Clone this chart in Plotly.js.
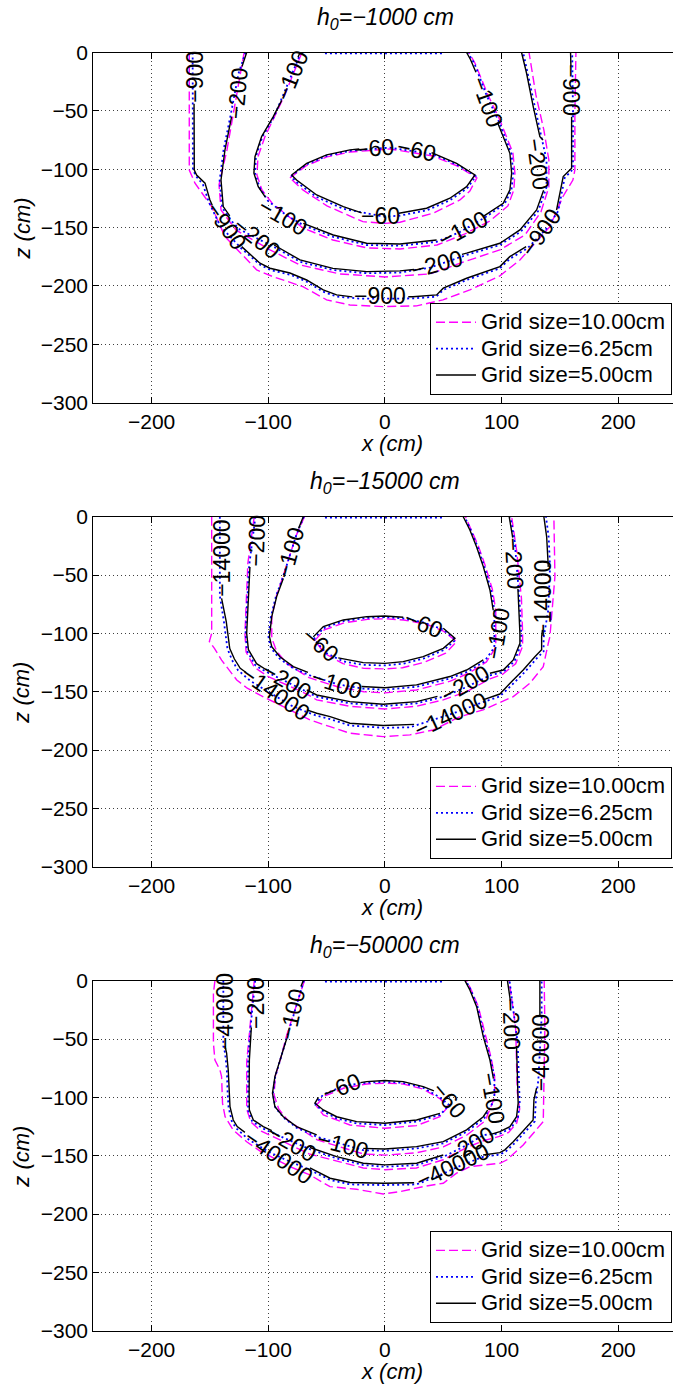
<!DOCTYPE html>
<html><head><meta charset="utf-8">
<script src="https://cdn.plot.ly/plotly-3.0.1.min.js"></script>
<style>html,body{margin:0;padding:0;background:#fff}#chart{width:673px;height:1384px}</style>
</head><body><div id="chart"></div>
<script>
// ---------------- data (x cm, z cm) ----------------
const panelTitles = ['<i>h<sub>0</sub>=\u22121000 cm</i>', '<i>h<sub>0</sub>=\u221215000 cm</i>', '<i>h<sub>0</sub>=\u221250000 cm</i>'];
const seriesNames = ['Grid size=10.00cm', 'Grid size=6.25cm', 'Grid size=5.00cm'];
const xTicks = [-200, -100, 0, 100, 200];
const zTicks = [0, -50, -100, -150, -200, -250, -300];

// ---- panel 1 (h0=-1000) ----
const p1_mag60 = [[-81.4,-107.5],[-67.7,-97.2],[-49.7,-89.5],[-30,-85.3],[4.3,-82.7],[41.1,-88.7],[61.7,-97.2],[78.8,-107.5],[72.8,-118.7],[64.3,-126.4],[41.1,-137.8],[12.9,-145.5],[0,-146.5],[-18.9,-145],[-49.7,-131.5],[-70.3,-117.8],[-81.4,-107.5]];
const p1_mag100 = [[-71.1,0],[-86.5,-37.9],[-102.8,-72.1],[-108.8,-89.3],[-109.7,-105],[-105.4,-117.8],[-96.8,-129],[-70.3,-150.4],[-44.6,-160.7],[-15.4,-167.5],[12.9,-168.4],[44.6,-165],[68.6,-155.5],[90,-144.4],[105.4,-131.5],[110.5,-117.8],[111.4,-103.3],[109.7,-86.1],[98.5,-57.8],[88.3,-36.4],[77.1,-9],[72,0]];
const p1_mag200 = [[-120.7,0],[-127.7,-40.7],[-135.4,-83.5],[-142.2,-113.5],[-140.5,-135],[-127.7,-152.1],[-98.5,-169.2],[-72.8,-182.1],[-38.6,-189.8],[0,-192.4],[38.6,-189.8],[70,-178.7],[98.5,-169.2],[120,-156.4],[133.7,-136.7],[140.5,-115.3],[140.5,-92.1],[136.2,-66.4],[129.4,-36.4],[123.5,0]];
const p1_mag900 = [[-167.7,0],[-167.7,-100.7],[-162.8,-112],[-148.5,-132.1],[-137.1,-157.8],[-109.9,-186.4],[-96,-192.1],[-70.3,-200.7],[-50,-212],[-30,-216.4],[-1.7,-217.8],[27.2,-217.2],[49.7,-212],[72.8,-203.5],[98.5,-191.5],[115.7,-177.8],[141.4,-149.3],[152.5,-123.6],[161.1,-109.3],[162.8,-100.7],[162.8,-51.8],[163.7,0]];
const p1_blue60 = [[-80.5,-106],[-67.3,-96],[-50,-88.6],[-30,-84.3],[4.3,-81.5],[41.4,-87.3],[61.5,-96],[77.8,-106],[70.6,-116.3],[56,-126.5],[35.7,-135.3],[12.9,-139.8],[0,-140.8],[-35.7,-134],[-58.8,-123.7],[-76.5,-110.5],[-80.5,-106]];
const p1_blue100 = [[-72,0],[-81.7,-23.6],[-87.9,-38],[-95,-55],[-105,-72.1],[-110.6,-89.3],[-111.3,-103.5],[-107.5,-115.5],[-100,-127.5],[-85,-139],[-70,-148],[-44.3,-158],[-15.7,-165],[12.9,-165.6],[44.3,-162.3],[64.8,-153.6],[84.8,-142],[102.5,-130],[108.4,-118],[110,-103.5],[108.4,-86.4],[102.6,-72.1],[97,-57.8],[87,-36.4],[76.6,-9.3],[71,0]];
const p1_blue200 = [[-119.5,0],[-125.5,-18],[-132.5,-55],[-138.3,-83.5],[-141.7,-110],[-139.5,-133],[-131,-145],[-124,-152],[-93,-167.8],[-72.8,-179.3],[-44.6,-186.5],[-15.7,-189.2],[12.9,-188.6],[38.6,-184.4],[70,-173.5],[98.5,-165],[116.5,-153.5],[131.3,-136],[138.5,-115.5],[138.5,-92],[134,-72],[128.3,-46.4],[122.6,-17.8],[118.5,0]];
const p1_blue900 = [[-164.8,0],[-164.6,-100],[-162,-106],[-156,-113],[-151,-128],[-141,-149],[-123,-168],[-107,-182],[-98,-186.5],[-81,-190.5],[-67,-196.5],[-53,-205],[-41,-209.3],[-21,-211],[0,-211],[24,-210.8],[44,-209.3],[50,-203.5],[70,-195],[98.5,-185],[107.5,-176.5],[122,-168],[138,-151.5],[148.5,-136],[154,-107.5],[161.2,-100],[161.2,-52],[160.5,0]];
const p1_blueTop = [[-51.4,-0.7],[50,-0.7]];
const p1_black60 = [[-80,-105],[-67.1,-95],[-50,-87.8],[-30,-83.5],[-22,-82.6],null,[40,-85.8],[41.4,-86.4],[61.4,-95],[77.1,-105],[70,-115],[55.7,-124.9],[35.7,-133.5],[12,-137.8],null,[-20,-137.5],[-35.7,-132.1],[-58.5,-122.1],[-75.7,-109.3],[-80,-105]];
const p1_black100 = [[-72.8,0],[-74.5,-4],null,[-88.5,-41],[-95.7,-55],[-105.7,-72.1],[-111.4,-89.3],[-112.3,-103.5],[-108.6,-115],[-102.5,-124],null,[-70,-146.4],[-44.3,-156.4],[-15.7,-163.5],[12.9,-164.1],[44.3,-160.7],null,[84,-140.7],[101.4,-129.2],[107.1,-117.8],[108.6,-103.5],[107.1,-86.4],[101.4,-72.1],[96.5,-60],null,[78,-17],[73.3,-6],[70,0]];
const p1_black200 = [[-118.5,0],[-122.5,-12],null,[-131.4,-55],[-137.1,-83.5],[-140.5,-109.3],[-138.6,-132.1],[-133,-140],null,[-95,-165],[-72.8,-177.8],[-44.6,-185],[-15.7,-187.8],[12.9,-187.2],[25,-186],null,[66,-173],[70,-172],[98.5,-163.5],[115.7,-152.1],[130,-135],[136,-118],null,[135.5,-75],[132.8,-72.1],[127.1,-46.4],[121.4,-17.8],[117.1,0]];
const p1_black900 = [[-163.6,-44],[-163.4,-100.7],[-161.4,-105],[-154.2,-112],[-150,-126.4],[-148,-131],null,[-122.8,-166.4],[-107.1,-180.6],[-98.5,-184.9],[-81.4,-189],[-67.1,-195],[-52.9,-203.5],[-41.4,-207.8],[-28,-209.5],null,[20,-209.4],[24,-209.3],[44.3,-207.8],[50,-202],[70,-193.5],[98.5,-183.5],[107,-175],[121,-166.4],null,[147.1,-135],[152.8,-106.4],[160,-99.2],[160,-55],null,[159.4,-12],[159.1,0]];
const p1_labels = [['\u2212900',-163,-21,-90],['\u2212200',-126,-35,-85],['\u2212100',-80,-20,-68],['\u221260',-9,-82,-5],['\u221260',27,-83.5,12],['\u221260',-4,-140.5,0],['\u2212900',-136,-149,55],['\u2212200',-110,-159,38],['\u2212100',-87,-141,30],['\u2212100',67,-151,-28],['\u2212200',45,-181,-15],['\u2212900',-4,-209,0],['\u2212900',134,-154,-55],['\u2212200',131.5,-96,82],['\u2212100',88,-42,70],['\u2212900',160,-32,90]];

// ---- panel 2 (h0=-15000) ----
const p2_mag60 = [[-60,-106],[-52,-97],[-35,-91],[-15,-88],[0,-87.5],[16,-88.5],[35,-92],[50,-98],[61.5,-107],[52,-117],[33,-125],[15,-129.5],[0,-130.5],[-18,-130],[-36,-126],[-52,-117],[-60,-106]];
const p2_mag100 = [[-69,0],[-76,-16],[-87,-50],[-93,-68],[-97,-86],[-97,-104],[-93,-115],[-84,-126],[-65,-138],[-40,-146],[-18,-150],[0,-151],[27,-148.5],[56,-141],[72,-134],[87,-124.5],[95,-112],[95,-80],[92,-62],[86,-42],[80,-25],[74,-11],[69,0]];
const p2_mag200 = [[-112,0],[-117.5,-40],[-120,-100],[-119,-116],[-112,-129],[-100,-137],[-67,-152],[-58.5,-157],[-30,-162.5],[0,-164.8],[27,-162.5],[50,-157],[70,-150],[90,-139],[101,-135],[112,-126],[118,-111],[118,-100],[117,-70],[113,-30],[108.6,0]];
const p2_mag14000 = [[-148.5,0],[-148.5,-100],[-150.5,-107],[-146,-113],[-140,-123],[-132,-133],[-127,-140],[-118,-147],[-107,-153],[-87,-162.8],[-64.3,-174.2],[-47,-180],[-30,-185.6],[-1.5,-188.5],[21.4,-187],[41.4,-182.8],[64.3,-171.4],[84.2,-165.6],[98.5,-159],[110,-154.2],[124.2,-142.8],[135.7,-128.5],[140,-108.5],[141.4,-102.8],[145.7,-51.4],[144.8,0]];
const p2_blue60 = [[-61,-105],[-52.6,-95.5],[-35.7,-89.5],[-15.7,-86.7],[0,-86.1],[15.7,-87.2],[32.8,-90.5],[50,-96.8],[60.7,-105.5],[50.5,-114.3],[32.8,-121.7],[15.7,-126],[0,-127.5],[-18.6,-127],[-35.7,-124],[-50,-117],[-61,-105]];
const p2_blue100 = [[-69.5,0],[-75.7,-15],[-87.5,-52],[-93.5,-68.5],[-97.8,-86],[-99.8,-103],[-97.8,-112.5],[-90.5,-121.5],[-78.5,-130],[-64.3,-136],[-40,-143.8],[-18.6,-147.4],[0,-148.3],[27.1,-145.8],[55.7,-138.6],[70.5,-133],[85.2,-124.2],[93.8,-112],[93.8,-80],[91,-62.8],[85.2,-42.8],[79.4,-25.7],[73.6,-11.4],[68.2,0]];
const p2_blue200 = [[-111,0],[-116.5,-43],[-118,-71.4],[-119.5,-100],[-118.2,-115],[-111,-127.5],[-101.5,-133],[-67,-150],[-58.5,-154.3],[-30,-160],[0,-162.3],[27.2,-160],[50,-154.3],[70,-146],[90,-136],[101.5,-133],[111,-124],[116.8,-109],[116.8,-100],[115.3,-71],[111.2,-21],[107.5,0]];
const p2_blue14000 = [[-141.5,0],[-141.5,-68],[-138,-90],[-135,-113],[-131,-123],[-126,-131.5],[-115,-141],[-95,-153],[-80,-162],[-67,-167.5],[-58.5,-170.5],[-47,-173.5],[-30,-179],[0,-181],[21.4,-180.5],[40,-174.5],[60,-168],[84,-159],[98.5,-154],[108,-145],[120,-133],[130,-121.5],[136,-115.5],[136,-104],[140,-80],[141.5,-43],[140.3,-17],[138,0]];
const p2_blueTop = [[-51.4,-0.7],[50,-0.7]];
const p2_black60 = [[-61.4,-103],[-52.8,-94.2],[-35.7,-88.5],[-15.7,-85.7],[0,-85.1],[15.7,-86.2],null,[50,-95.6],[60,-104.2],[50,-112.8],[32.8,-120],[15.7,-124.2],[0,-125.7],[-18.6,-125.1],[-35.7,-122.2],[-40,-121]];
const p2_black100 = [[-70,0],[-74,-10],null,[-87.1,-53],[-92.8,-68.5],[-97,-85.7],[-99,-102.8],[-97,-111.4],[-90,-120],[-78.5,-128.5],[-66,-133.5],null,[-20,-145.5],[0,-146.6],[27.1,-144.2],[55.7,-137],[70,-131.4],[84.3,-122.8],null,[92.8,-80],[90,-62.8],[84.3,-42.8],[78.5,-25.7],[72.8,-11.4],[68.6,-2],[67.1,0]];
const p2_black200 = [[-115.7,-43],[-117,-71.4],[-118.5,-100],[-117,-114],[-110,-126],[-101.4,-131.4],null,[-67,-148.5],[-58.5,-152.8],[-30,-158.5],[-1.5,-160.8],[27.2,-158.5],[45,-154],null,[90,-134.2],[101.4,-131.4],[110,-122.8],[115.7,-108.5],[115.7,-100],[114.2,-71.4],[114,-62],null,[109.5,-18],[107.5,-8],[106.5,0]];
const p2_black14000 = [[-140,-70],[-136,-90],[-133,-113],[-129,-122],[-124,-130],[-119,-133.5],null,[-67,-165.6],[-58.5,-168.5],[-47,-171.4],[-30,-177],[-1.5,-179],[21.4,-178.5],[25,-178],null,[84,-157],[98.5,-152],[107,-143],[118.5,-131.4],[128.5,-120],[134.3,-114],[134.3,-103],[135,-97],null,[140,-43],[138.6,-17],[136.2,0]];
const p2_labels = [['\u221214000',-139.5,-36,-90],['\u2212200',-110,-21,-88],['\u2212100',-81.4,-31,-75],['\u221260',-55,-110,40],['\u221260',33,-92,22],['\u2212200',-84,-141,30],['\u221214000',-94,-151,35],['\u2212100',-41,-143,18],['\u2212200',69,-143,-30],['\u221214000',56,-170,-25],['\u2212100',97,-100,-80],['\u2212200',110.5,-40,87],['\u221214000',136,-70,-90]];

// ---- panel 3 (h0=-50000) ----
const p3_mag60 = [[-59,-107],[-52,-99],[-35,-92],[-15.7,-88.5],[0,-87.8],[15.7,-88.5],[33,-93],[47,-101],[54,-108],[47,-116.6],[27,-124.2],[0,-126.5],[-30,-123.7],[-52.8,-115],[-59,-107]];
const p3_mag100 = [[-69,0],[-84,-46],[-89.5,-67],[-94,-82],[-95,-98],[-91,-110],[-83,-120],[-58,-136.5],[-18.6,-148.5],[0,-149.5],[27,-147.5],[50,-142.5],[70,-132.5],[86,-120],[94,-100],[94,-82],[91,-66],[86,-47],[80,-22],[74,-8],[70,0]];
const p3_mag200 = [[-112,0],[-116,-40],[-118.5,-70],[-118.5,-110],[-115,-121],[-106,-129],[-95,-134],[-65,-148.5],[-41,-154.5],[-18.6,-160.5],[0,-162],[27,-160.5],[50,-153.5],[70,-143],[85,-137],[98,-133.5],[106,-130],[113,-122],[115.5,-110],[113.5,-96],[112,-40],[106.5,0]];
const p3_mag40000 = [[-145.7,0],[-147,-10.8],[-147,-53.7],[-145.7,-68],[-141.4,-76.5],[-140,-82.2],[-139.2,-105],[-137,-116.6],[-130,-128],[-118.5,-138],[-107,-146],[-81.4,-159.4],[-64.3,-166.5],[-47.1,-176.5],[-24.3,-178.8],[-1.5,-182.8],[12.9,-180.8],[32.8,-176.5],[50,-173.6],[61.4,-165],[72.8,-159.4],[98.5,-156.5],[104.3,-153.7],[118.5,-140.8],[135.7,-120.8],[136.2,-96.5],[137.1,-39.4],[136.5,0]];
const p3_blue60 = [[-60,-106],[-52.8,-97.5],[-35,-90],[-15.7,-87.5],[0,-86.6],[15.7,-87.5],[32.8,-91.8],[47,-100],[55,-106.5],[47.3,-115],[27.1,-120.7],[0,-123.7],[-24.3,-122.3],[-41.4,-118],[-52.8,-112],[-60,-106]];
const p3_blue100 = [[-69.5,0],[-84,-48],[-89.7,-68],[-94,-82.2],[-96,-97],[-94,-108.5],[-86.8,-117.5],[-75.5,-126.2],[-58.5,-133.7],[-18.6,-145.3],[0,-145.8],[27.1,-143.8],[50,-139.4],[70,-129.5],[85,-118],[93.8,-102],[93.8,-82.2],[90.8,-68],[85.2,-48],[79.4,-22.3],[73.6,-8],[69.4,0]];
const p3_blue200 = [[-111.2,0],[-115.2,-40],[-117.3,-68],[-117.5,-96.5],[-117.3,-111.2],[-113.8,-120.5],[-105,-126.5],[-95.7,-130.8],[-64.3,-144.5],[-41.4,-152.3],[-18.6,-158],[0,-159.5],[27.2,-158],[50,-151],[70,-141],[84.3,-132.3],[98.5,-131],[108,-126.5],[114,-117.3],[115.5,-105],[114,-68],[113.8,-53.7],[108.2,-10.8],[106.8,0]];
const p3_blue40000 = [[-138.5,0],[-138.5,-56],[-137,-62],[-135.5,-76.5],[-134.8,-96.5],[-134,-108.5],[-131.3,-120.3],[-127.5,-126.5],[-117,-136],[-100,-146.5],[-85,-153.5],[-67,-161],[-55.7,-166.5],[-47,-170.8],[-30,-174.6],[-1.5,-175.2],[27,-174.6],[45,-167.5],[65,-158.5],[84,-151],[98.5,-149],[103.5,-146.5],[111,-139.5],[128.5,-120.5],[129.3,-102.5],[131.5,-85],[134.3,-31],[134.3,0]];
const p3_blueTop = [[-51.4,-0.7],[50,-0.7]];
const p3_black60 = [[47.1,-113.7],[27.1,-119.4],[0,-122.2],[-24.3,-120.8],[-41.4,-116.6],[-52.8,-110.8],[-60,-105],[-57,-100],null,[-21,-87.4],[-15.7,-86.5],[0,-85.6],[15.7,-86.5],[32.8,-90.8],[42,-94.5]];
const p3_black100 = [[-70,0],[-72,-5],null,[-84.3,-50],[-90,-68],[-94.3,-82.2],[-96.4,-96.5],[-94.3,-107.9],[-87.1,-116.6],[-75.7,-125.1],[-58.5,-132.2],null,[-18.6,-143.7],[0,-144.2],[27.1,-142.2],[50,-137.9],[70,-127.9],[84.3,-116.6],[88,-111],null,[93,-84],[90,-68],[84.3,-48],[78.6,-22.3],[72.8,-8],[68.6,0]];
const p3_black200 = [[-114.5,-40],[-116.2,-68],[-116.4,-96.5],[-116.2,-110.8],[-112.8,-119.4],[-104.3,-125.1],[-97,-128.5],null,[-64.3,-143],[-41.4,-150.8],[-18.6,-156.5],[0,-157.9],[27.2,-156.5],[50,-149.4],null,[90,-132],[98.5,-129.4],[107.1,-125.1],[112.8,-116.6],[114.2,-105],[112.8,-68],[112.8,-56],null,[107.5,-17],[106,-8],[105,0]];
const p3_black40000 = [[-137.1,-56],[-135.7,-62],[-134.3,-76.5],[-133.5,-96.5],[-132.8,-108],[-130,-119.4],[-126.6,-125],[-120,-130],null,[-64.3,-160.5],[-55.7,-165],[-47,-169.3],[-30,-173],[-1.5,-173.6],[25,-173.2],null,[84.2,-149.4],[98.5,-147.4],[102.8,-145],[110,-138],[127,-119.4],[127.7,-102],[130,-92],null,[132.8,-31],[132.8,0]];
const p3_labels = [['\u221240000',-137,-27,-90],['\u2212200',-110,-19.5,-90],['\u2212100',-80,-29,-78],['\u221260',-37,-91,-22],['\u221260',55,-102,50],['\u2212200',-80,-139,30],['\u221240000',-91,-151,35],['\u2212100',-36,-141,15],['\u2212200',73,-141,-30],['\u221240000',58,-159,-25],['\u2212100',93,-101,80],['\u2212200',108.6,-37,88],['\u221240000',134,-62,-90]];

// ---------------- layout / drawing ----------------
const W = 673, H = 1384;
const FONT = 'Liberation Sans, Arial, Helvetica, sans-serif';
const panels = [
  {mag:[p1_mag60,p1_mag100,p1_mag200,p1_mag900], blue:[p1_blue60,p1_blue100,p1_blue200,p1_blue900,p1_blueTop], black:[p1_black60,p1_black100,p1_black200,p1_black900], labels:p1_labels, top:52.5},
  {mag:[p2_mag60,p2_mag100,p2_mag200,p2_mag14000], blue:[p2_blue60,p2_blue100,p2_blue200,p2_blue14000,p2_blueTop], black:[p2_black60,p2_black100,p2_black200,p2_black14000], labels:p2_labels, top:516.7},
  {mag:[p3_mag60,p3_mag100,p3_mag200,p3_mag40000], blue:[p3_blue60,p3_blue100,p3_blue200,p3_blue40000,p3_blueTop], black:[p3_black60,p3_black100,p3_black200,p3_black40000], labels:p3_labels, top:980.7}
];
const styles = {
  mag:   {color:'#ff00ff', width:1.4, dash:'9px,4px'},
  blue:  {color:'#0000ff', width:1.8, dash:'2px,3px'},
  black: {color:'#000000', width:1.4, dash:'solid'}
};
const order = ['mag','blue','black'];
const plotH = 350;
const px2x = p => p / W;
const px2y = p => 1 - p / H;

const traces = [];
const annotations = [];
const layout = {
  width: W, height: H, margin:{l:0,r:0,t:0,b:0},
  paper_bgcolor:'#fff', plot_bgcolor:'#fff',
  font:{family:FONT, color:'#000', size:20},
  showlegend:true
};

panels.forEach((P, i) => {
  const n = i === 0 ? '' : String(i + 1);
  const xa = 'x' + n, ya = 'y' + n;
  const legName = 'legend' + n;
  const axCommon = {
    showline:true, linecolor:'#000', linewidth:1,
    ticks:'inside', ticklen:6, tickcolor:'#000', tickwidth:1,
    showgrid:true, gridcolor:'rgba(0,0,0,0.75)', gridwidth:1, griddash:'1px,3px',
    zeroline:false, tickfont:{family:FONT, size:21, color:'#000'}, fixedrange:true
  };
  layout['xaxis' + n] = Object.assign({}, axCommon, {
    anchor: ya, domain:[93.25 / W, 1], range:[-250, 246.9],
    tickmode:'array', tickvals:xTicks, ticktext:xTicks.map(v => v < 0 ? '\u2212' + Math.abs(v) : String(v)),
    mirror:'ticks'
  });
  layout['yaxis' + n] = Object.assign({}, axCommon, {
    anchor: xa, domain:[px2y(P.top + plotH), px2y(P.top)], range:[-300, 0],
    tickmode:'array', tickvals:zTicks, ticktext:zTicks.map(v => v < 0 ? '\u2212' + Math.abs(v) : String(v)),
    mirror:false
  });
  layout[legName] = {
    x: 672 / W, xanchor:'right', y: px2y(P.top + 342.5), yanchor:'bottom',
    bgcolor:'#fff', bordercolor:'#000', borderwidth:1,
    font:{family:FONT, size:18, color:'#000'}, itemwidth:40, tracegroupgap:0
  };
  order.forEach((key, s) => {
    P[key].forEach((pts, j) => {
      traces.push({
        type:'scatter', mode:'lines', xaxis:xa, yaxis:ya,
        x: pts.map(p => p ? p[0] : null), y: pts.map(p => p ? p[1] : null),
        line: styles[key], connectgaps:false, hoverinfo:'skip',
        name: '<span style="font-size:22px">' + seriesNames[s] + '</span>',
        legendgroup: key + n, legend: legName,
        showlegend: j === 0
      });
    });
  });
  P.labels.forEach(L => {
    annotations.push({xref:xa, yref:ya, x:L[1], y:L[2], text:L[0], textangle:L[3],
      showarrow:false, xanchor:'center', yanchor:'middle',
      font:{family:FONT, size:23, color:'#000'}});
  });
  // panel title and axis titles
  annotations.push({xref:'paper', yref:'paper', x:px2x(385), y:px2y(P.top - 34), text:panelTitles[i],
    showarrow:false, xanchor:'center', yanchor:'middle', font:{family:FONT, size:23, color:'#000'}});
  annotations.push({xref:'paper', yref:'paper', x:px2x(392), y:px2y(P.top + 391), text:'<i>x (cm)</i>',
    showarrow:false, xanchor:'center', yanchor:'middle', font:{family:FONT, size:22, color:'#000'}});
  annotations.push({xref:'paper', yref:'paper', x:px2x(22), y:px2y(P.top + 176), text:'<i>z (cm)</i>', textangle:-90,
    showarrow:false, xanchor:'center', yanchor:'middle', font:{family:FONT, size:22, color:'#000'}});
});
layout.annotations = annotations;

Plotly.newPlot('chart', traces, layout, {staticPlot:true, displayModeBar:false});
</script>
</body></html>
